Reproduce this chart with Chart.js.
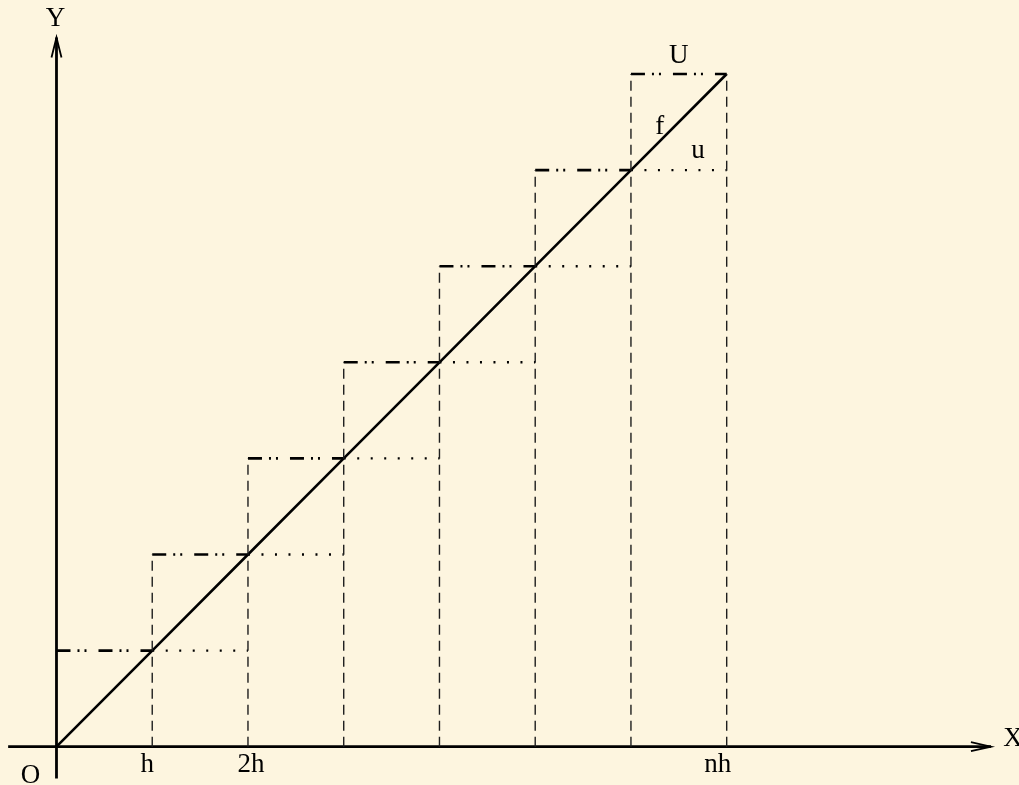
<!DOCTYPE html>
<html>
<head>
<meta charset="utf-8">
<script src="https://cdn.jsdelivr.net/npm/chart.js@4/dist/chart.umd.min.js"></script>
<style>
  html, body { margin: 0; padding: 0; background: #fdf5df; }
  #wrap { width: 1019px; height: 785px; }
</style>
</head>
<body>
<div id="wrap"><canvas id="c" width="1019" height="785"></canvas></div>
<script>
// Partition nodes x_k = k·h (in units of h) and the values of f at those nodes
const nodes = [0, 1, 2, 3, 4, 5, 6, 7];
const fValues = [0, 1, 2, 3, 4, 5, 6, 7];

// Upper step function U: value on [x_(k-1), x_k]
const upperLevels = [1, 2, 3, 4, 5, 6, 7];
// Lower step function u: value on [x_k, x_(k+1)]
const lowerLevels = [1, 2, 3, 4, 5, 6];
// Dashed verticals at x_1 .. x_7 and the height they reach
const verticalX = [1, 2, 3, 4, 5, 6, 7];
const verticalTop = [2, 3, 4, 5, 6, 7, 7];

// Labels on the X axis
const tickValues = [1, 2, 7];
const tickLabels = ['h', '2h', 'nh'];

// Extent of the drawn axes (data units)
const xAxisRange = [-0.505, 9.76];
const yAxisRange = [-0.33, 7.38];

const INK = '#000';
const FONT = '27px "Liberation Serif", "DejaVu Serif", serif';

const datasets = [];

// dashed verticals
verticalX.forEach((x, i) => {
  datasets.push({
    data: [{x: x, y: 0}, {x: x, y: verticalTop[i]}],
    borderColor: '#1e1e1e', borderWidth: 1.4, borderDash: [10, 6]
  });
});

// U : dash-dot-dot segments
upperLevels.forEach((v, i) => {
  datasets.push({
    data: [{x: nodes[i], y: v}, {x: nodes[i + 1], y: v}],
    borderColor: INK, borderWidth: 2.6, borderDash: [14, 7, 2, 5, 2, 12]
  });
});

// u : dotted segments
lowerLevels.forEach((v, i) => {
  datasets.push({
    data: [{x: nodes[i + 1], y: v}, {x: nodes[i + 2], y: v}],
    borderColor: INK, borderWidth: 2.4, borderDash: [2, 11.5]
  });
});

// f : the straight line through the nodes
datasets.push({
  data: nodes.map((x, i) => ({x: x, y: fValues[i]})),
  borderColor: INK, borderWidth: 2.6
});

datasets.forEach(d => {
  d.showLine = true;
  d.pointRadius = 0;
  d.pointHoverRadius = 0;
  d.fill = false;
  d.tension = 0;
});

// axes with open arrowheads, drawn from the chart's scales
const axesPlugin = {
  id: 'axes',
  beforeDatasetsDraw(chart) {
    const {ctx, scales: {x, y}} = chart;
    const ox = x.getPixelForValue(0), oy = y.getPixelForValue(0);
    const x0 = x.getPixelForValue(xAxisRange[0]), x1 = x.getPixelForValue(xAxisRange[1]);
    const y0 = y.getPixelForValue(yAxisRange[0]), y1 = y.getPixelForValue(yAxisRange[1]);
    ctx.save();
    ctx.strokeStyle = INK;
    ctx.lineWidth = 2.8;
    ctx.beginPath();
    ctx.moveTo(x0, oy); ctx.lineTo(x1, oy);
    ctx.moveTo(ox, y0); ctx.lineTo(ox, y1);
    ctx.stroke();
    ctx.lineWidth = 1.8;
    ctx.beginPath();
    ctx.moveTo(x1 - 20, oy - 4.5); ctx.lineTo(x1, oy); ctx.lineTo(x1 - 20, oy + 4.5);
    ctx.moveTo(ox - 5, y1 + 20); ctx.lineTo(ox, y1); ctx.lineTo(ox + 5, y1 + 20);
    ctx.stroke();
    ctx.restore();
  },
  afterDatasetsDraw(chart) {
    const {ctx, scales: {x, y}} = chart;
    const ox = x.getPixelForValue(0), oy = y.getPixelForValue(0);
    ctx.save();
    ctx.fillStyle = INK;
    ctx.font = FONT;
    ctx.textAlign = 'center';
    ctx.textBaseline = 'alphabetic';
    const shift = {'h': -5, '2h': 3, 'nh': -9};
    tickValues.forEach((v, i) => {
      const lbl = tickLabels[i];
      ctx.fillText(lbl, x.getPixelForValue(v) + shift[lbl], oy + 25);
    });
    ctx.fillText('O', ox - 26, oy + 36);
    ctx.fillText('X', x.getPixelForValue(xAxisRange[1]) + 22, oy - 1);
    ctx.fillText('Y', ox - 1, y.getPixelForValue(yAxisRange[1]) - 11);
    const top = upperLevels[upperLevels.length - 1];
    const last = nodes[nodes.length - 1];
    ctx.fillText('U', x.getPixelForValue(last - 0.5), y.getPixelForValue(top) - 11);
    ctx.fillText('f', x.getPixelForValue(last - 0.7), y.getPixelForValue(top - 0.62));
    ctx.fillText('u', x.getPixelForValue(last - 0.3), y.getPixelForValue(top - 0.87));
    ctx.restore();
  }
};

new Chart(document.getElementById('c'), {
  type: 'scatter',
  data: { datasets },
  options: {
    responsive: false,
    animation: false,
    events: [],
    layout: { padding: 0, autoPadding: false },
    plugins: { legend: { display: false }, tooltip: { enabled: false } },
    scales: {
      x: { type: 'linear', display: false, min: -0.590, max: 10.053 },
      y: { type: 'linear', display: false, min: -0.3985, max: 7.770 }
    }
  },
  plugins: [axesPlugin]
});
</script>
</body>
</html>
